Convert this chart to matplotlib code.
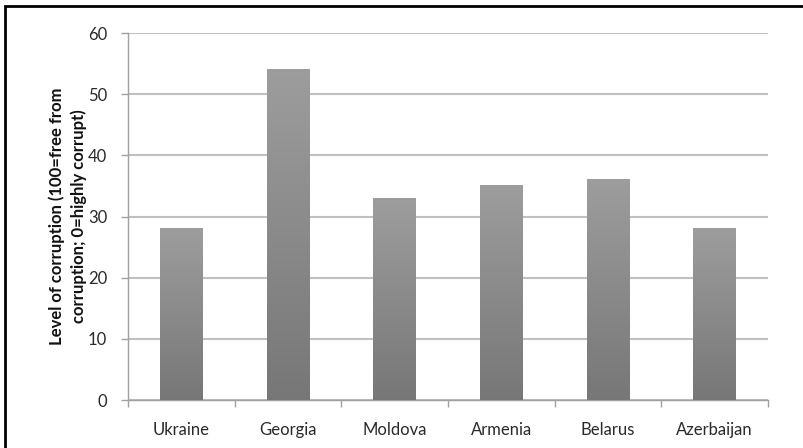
import numpy as np
import matplotlib
matplotlib.use("Agg")
import matplotlib.pyplot as plt
from matplotlib.patches import Rectangle
from matplotlib.colors import LinearSegmentedColormap

countries = ["Ukraine", "Georgia", "Moldova", "Armenia", "Belarus", "Azerbaijan"]
corruption = [28, 54, 33, 35, 36, 28]
y_ticks = [0, 10, 20, 30, 40, 50, 60]
y_label = "Level of corruption (100=free from\ncorruption; 0=highly corrupt)"

plt.rcParams["font.family"] = ["Lato", "DejaVu Sans"]

W, H = 804, 448
fig = plt.figure(figsize=(W / 100, H / 100), dpi=100)
ax = fig.add_axes([128 / W, 1 - 400 / H, (768 - 128) / W, (400 - 33) / H])

x = np.arange(len(countries))
bar_w = 0.4
bars = ax.bar(x, corruption, width=bar_w, color="none", edgecolor="none", zorder=3)

# vertical grey gradient inside each bar (lighter at top)
cmap = LinearSegmentedColormap.from_list("bar_grad", ["#777777", "#9d9d9d"])
grad = np.linspace(0, 1, 256).reshape(-1, 1)
for b in bars:
    x0, w, h = b.get_x(), b.get_width(), b.get_height()
    ax.imshow(grad, cmap=cmap, aspect="auto", origin="lower",
              extent=[x0, x0 + w, 0, h], zorder=3)

ax.set_xlim(-0.5, len(countries) - 0.5)
ax.set_ylim(0, 60)
ax.set_yticks(y_ticks)
ax.set_xticks(x)
ax.set_xticklabels(countries, fontsize=12, color="#2a2a2a")
ax.set_xticks(np.arange(-0.5, len(countries)), minor=True)
ax.tick_params(axis="x", which="major", length=0, pad=16)
ax.tick_params(axis="x", which="minor", length=5, color="#a0a0a0", width=1)
ax.tick_params(axis="y", length=5, color="#a0a0a0", width=1, labelsize=12,
               labelcolor="#2a2a2a", pad=10)

ax.yaxis.grid(True, color="#c0c0c0", linewidth=1.5, zorder=0)
ax.set_axisbelow(True)
for side in ["top", "right"]:
    ax.spines[side].set_visible(False)
for side in ["left", "bottom"]:
    ax.spines[side].set_color("#a0a0a0")
    ax.spines[side].set_linewidth(1)

ax.set_ylabel(y_label, fontsize=12, fontweight="bold", labelpad=1,
              linespacing=1.35, color="#111111")

# outer frame
fig.patches.append(Rectangle((5 / W, -0.1), 1.2, 1 - 6 / H + 0.1,
                             transform=fig.transFigure, fill=False,
                             edgecolor="black", linewidth=2))

fig.savefig("out.png", dpi=100)
